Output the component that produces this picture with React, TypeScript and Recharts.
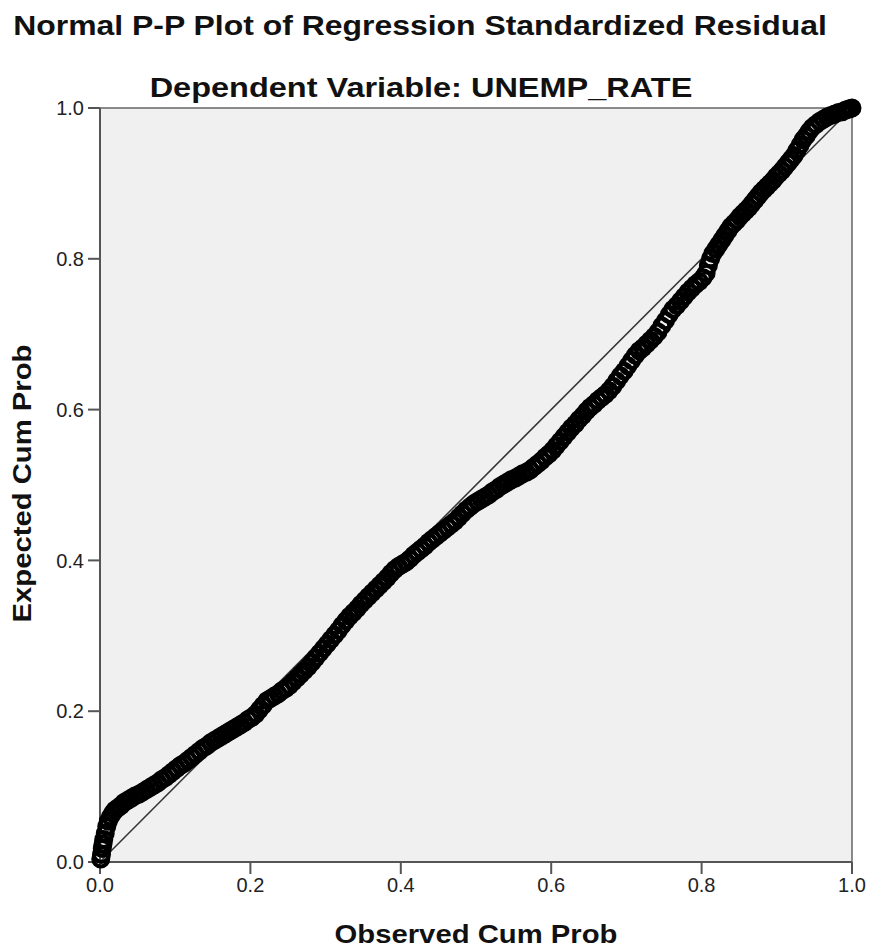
import { ScatterChart, Scatter, XAxis, YAxis, ReferenceLine, ReferenceArea } from 'recharts'

const observedCumProb = [
  0.001, 0.002, 0.003, 0.004, 0.005, 0.007, 0.009, 0.011, 0.014, 0.017,
  0.020, 0.024, 0.028, 0.032, 0.037, 0.042, 0.047, 0.052, 0.057, 0.062,
  0.067, 0.072, 0.077, 0.082, 0.087, 0.092, 0.097, 0.102, 0.107, 0.112,
  0.117, 0.122, 0.127, 0.132, 0.137, 0.142, 0.147, 0.152, 0.157, 0.162,
  0.167, 0.172, 0.177, 0.182, 0.187, 0.192, 0.197, 0.202, 0.207, 0.212,
  0.217, 0.222, 0.227, 0.232, 0.237, 0.242, 0.247, 0.252, 0.257, 0.262,
  0.267, 0.272, 0.277, 0.282, 0.287, 0.292, 0.297, 0.302, 0.307, 0.312,
  0.317, 0.322, 0.327, 0.332, 0.337, 0.342, 0.347, 0.352, 0.357, 0.362,
  0.367, 0.372, 0.377, 0.382, 0.387, 0.392, 0.397, 0.402, 0.407, 0.412,
  0.417, 0.422, 0.427, 0.432, 0.437, 0.442, 0.447, 0.452, 0.457, 0.462,
  0.467, 0.472, 0.477, 0.482, 0.487, 0.492, 0.497, 0.502, 0.507, 0.512,
  0.517, 0.522, 0.527, 0.532, 0.537, 0.542, 0.547, 0.552, 0.557, 0.562,
  0.567, 0.572, 0.577, 0.582, 0.587, 0.592, 0.597, 0.602, 0.607, 0.612,
  0.617, 0.622, 0.627, 0.632, 0.637, 0.642, 0.647, 0.652, 0.657, 0.662,
  0.667, 0.672, 0.677, 0.682, 0.687, 0.692, 0.697, 0.702, 0.707, 0.712,
  0.717, 0.722, 0.727, 0.732, 0.737, 0.742, 0.747, 0.752, 0.757, 0.762,
  0.767, 0.772, 0.777, 0.782, 0.787, 0.792, 0.797, 0.802, 0.806, 0.809,
  0.812, 0.815, 0.819, 0.823, 0.827, 0.831, 0.835, 0.839, 0.843, 0.847,
  0.851, 0.855, 0.859, 0.863, 0.867, 0.871, 0.875, 0.879, 0.883, 0.887,
  0.891, 0.895, 0.899, 0.903, 0.907, 0.911, 0.915, 0.919, 0.923, 0.927,
  0.931, 0.935, 0.939, 0.943, 0.947, 0.952, 0.957, 0.962, 0.967, 0.972,
  0.977, 0.982, 0.987, 0.991, 0.994, 0.997, 1.000,
]

const expectedCumProb = [
  0.004, 0.010, 0.018, 0.024, 0.030, 0.038, 0.047, 0.054, 0.060, 0.065,
  0.069, 0.072, 0.075, 0.079, 0.082, 0.085, 0.088, 0.090, 0.093, 0.096,
  0.099, 0.102, 0.105, 0.109, 0.112, 0.116, 0.120, 0.124, 0.128, 0.131,
  0.135, 0.139, 0.143, 0.147, 0.151, 0.154, 0.158, 0.161, 0.164, 0.167,
  0.170, 0.173, 0.176, 0.179, 0.182, 0.185, 0.189, 0.192, 0.196, 0.202,
  0.208, 0.214, 0.217, 0.220, 0.223, 0.227, 0.230, 0.234, 0.239, 0.244,
  0.249, 0.254, 0.259, 0.265, 0.271, 0.277, 0.283, 0.289, 0.295, 0.301,
  0.307, 0.314, 0.320, 0.326, 0.331, 0.336, 0.342, 0.347, 0.352, 0.357,
  0.362, 0.367, 0.372, 0.377, 0.383, 0.388, 0.392, 0.395, 0.398, 0.402,
  0.407, 0.411, 0.415, 0.419, 0.424, 0.428, 0.432, 0.436, 0.440, 0.444,
  0.448, 0.452, 0.457, 0.462, 0.467, 0.471, 0.475, 0.478, 0.481, 0.484,
  0.487, 0.491, 0.494, 0.498, 0.501, 0.504, 0.507, 0.509, 0.512, 0.515,
  0.517, 0.520, 0.524, 0.528, 0.532, 0.537, 0.541, 0.546, 0.552, 0.558,
  0.564, 0.570, 0.576, 0.581, 0.587, 0.592, 0.598, 0.603, 0.607, 0.612,
  0.616, 0.620, 0.625, 0.631, 0.638, 0.645, 0.651, 0.658, 0.665, 0.672,
  0.678, 0.682, 0.687, 0.692, 0.697, 0.703, 0.711, 0.718, 0.726, 0.733,
  0.738, 0.744, 0.750, 0.756, 0.761, 0.766, 0.770, 0.775, 0.781, 0.791,
  0.800, 0.807, 0.813, 0.819, 0.825, 0.831, 0.837, 0.843, 0.847, 0.851,
  0.856, 0.860, 0.864, 0.868, 0.873, 0.878, 0.883, 0.888, 0.892, 0.896,
  0.900, 0.904, 0.909, 0.913, 0.917, 0.922, 0.927, 0.932, 0.937, 0.944,
  0.951, 0.958, 0.963, 0.969, 0.974, 0.978, 0.982, 0.985, 0.988, 0.990,
  0.992, 0.994, 0.995, 0.997, 0.998, 0.999, 1.000,
]

const axisTicks = [0, 0.2, 0.4, 0.6, 0.8, 1.0]

const data = observedCumProb.map((x, i) => ({ x, y: expectedCumProb[i] }))

const font = "'Liberation Sans', Arial, sans-serif"

const Ring = (props: any) => (
  <circle cx={props.cx} cy={props.cy} r={7.5} fill='none' stroke='#000' strokeWidth={4} />
)

const labelStyle = { fontWeight: 'bold' as const, color: '#111', whiteSpace: 'nowrap' as const }

export default function App() {
  return (
    <div style={{ position: 'absolute', left: 0, top: 0, width: 870, height: 951, background: '#fff', fontFamily: font }}>
      <div style={{ position: 'absolute', left: 0, top: 10, width: 840, textAlign: 'center', fontSize: 28, transform: 'scaleX(1.14)', ...labelStyle }}>
        Normal P-P Plot of Regression Standardized Residual
      </div>
      <div style={{ position: 'absolute', left: 0, top: 72, width: 842, textAlign: 'center', fontSize: 28, transform: 'scaleX(1.16)', ...labelStyle }}>
        Dependent Variable: UNEMP_RATE
      </div>
      <div style={{ position: 'absolute', left: 0, top: 920, width: 952, textAlign: 'center', fontSize: 25, transform: 'scaleX(1.17)', ...labelStyle }}>
        Observed Cum Prob
      </div>
      <div style={{ position: 'absolute', left: 22, top: 485, width: 0, height: 0 }}>
        <div style={{ position: 'absolute', left: -200, top: -16, width: 400, textAlign: 'center', fontSize: 25, transform: 'rotate(-90deg) scaleX(1.17)', ...labelStyle }}>
          Expected Cum Prob
        </div>
      </div>
      <ScatterChart width={870} height={951} margin={{ top: 108, right: 18, bottom: 39, left: 40 }}>
        <ReferenceArea x1={0} x2={1} y1={0} y2={1} fill='#f0f0f0' fillOpacity={1} stroke='#666' strokeWidth={1.5} ifOverflow='visible' />
        <XAxis
          type='number'
          dataKey='x'
          domain={[0, 1]}
          ticks={axisTicks}
          tickFormatter={(v) => v.toFixed(1)}
          height={50}
          tickSize={12}
          tickMargin={4}
          stroke='#555'
          strokeWidth={2}
          tick={{ fill: '#222', fontSize: 20, fontFamily: font }}
        />
        <YAxis
          type='number'
          dataKey='y'
          domain={[0, 1]}
          ticks={axisTicks}
          tickFormatter={(v) => v.toFixed(1)}
          width={60}
          tickSize={12}
          tickMargin={4}
          stroke='#555'
          strokeWidth={2}
          tick={{ fill: '#222', fontSize: 20, fontFamily: font }}
        />
        <ReferenceLine segment={[{ x: 0, y: 0 }, { x: 1, y: 1 }]} stroke='#333' strokeWidth={1.5} />
        <Scatter data={data} shape={Ring} isAnimationActive={false} />
      </ScatterChart>
    </div>
  )
}
